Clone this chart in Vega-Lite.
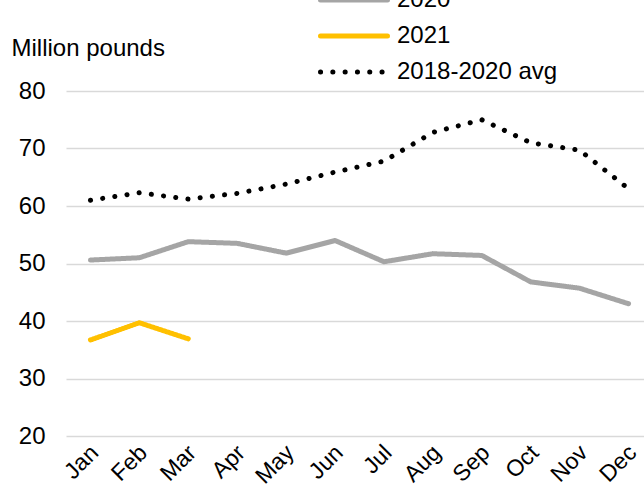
{
  "$schema": "https://vega.github.io/schema/vega-lite/v6.json",
  "autosize": "none",
  "width": 587,
  "height": 345,
  "padding": {"left": 66, "top": 91, "right": 0, "bottom": 56},
  "background": "white",
  "config": {
    "font": "Liberation Sans",
    "view": {"stroke": null},
    "axis": {"labelColor": "#000000", "titleColor": "#000000", "labelFont": "Liberation Sans", "titleFont": "Liberation Sans"}
  },
  "data": {
    "values": [
      {"month": "Jan", "series": "2020", "value": 50.6},
      {"month": "Feb", "series": "2020", "value": 51.0},
      {"month": "Mar", "series": "2020", "value": 53.8},
      {"month": "Apr", "series": "2020", "value": 53.5},
      {"month": "May", "series": "2020", "value": 51.8},
      {"month": "Jun", "series": "2020", "value": 54.0},
      {"month": "Jul", "series": "2020", "value": 50.3},
      {"month": "Aug", "series": "2020", "value": 51.7},
      {"month": "Sep", "series": "2020", "value": 51.4},
      {"month": "Oct", "series": "2020", "value": 46.8},
      {"month": "Nov", "series": "2020", "value": 45.7},
      {"month": "Dec", "series": "2020", "value": 43.0},
      {"month": "Jan", "series": "2021", "value": 36.7},
      {"month": "Feb", "series": "2021", "value": 39.7},
      {"month": "Mar", "series": "2021", "value": 36.9},
      {"month": "Jan", "series": "2018-2020 avg", "value": 61.0},
      {"month": "Feb", "series": "2018-2020 avg", "value": 62.3},
      {"month": "Mar", "series": "2018-2020 avg", "value": 61.2},
      {"month": "Apr", "series": "2018-2020 avg", "value": 62.2},
      {"month": "May", "series": "2018-2020 avg", "value": 63.8},
      {"month": "Jun", "series": "2018-2020 avg", "value": 65.9},
      {"month": "Jul", "series": "2018-2020 avg", "value": 67.8},
      {"month": "Aug", "series": "2018-2020 avg", "value": 72.8},
      {"month": "Sep", "series": "2018-2020 avg", "value": 75.0},
      {"month": "Oct", "series": "2018-2020 avg", "value": 71.0},
      {"month": "Nov", "series": "2018-2020 avg", "value": 69.7},
      {"month": "Dec", "series": "2018-2020 avg", "value": 63.0}
    ]
  },
  "mark": {"type": "line", "strokeWidth": 5, "strokeCap": "round", "strokeJoin": "round"},
  "encoding": {
    "x": {
      "field": "month",
      "type": "ordinal",
      "sort": ["Jan","Feb","Mar","Apr","May","Jun","Jul","Aug","Sep","Oct","Nov","Dec"],
      "scale": {"type": "point", "padding": 0.5},
      "axis": {
        "title": null,
        "labelAngle": -45,
        "labelFontSize": 23,
        "labelPadding": 5,
        "labelOffset": -4,
        "ticks": false,
        "tickSize": 0,
        "domain": false,
        "grid": false
      }
    },
    "y": {
      "field": "value",
      "type": "quantitative",
      "scale": {"domain": [20, 80], "nice": false, "zero": false},
      "axis": {
        "values": [20, 30, 40, 50, 60, 70, 80],
        "title": "Million pounds",
        "titleAngle": 0,
        "titleAlign": "left",
        "titleBaseline": "middle",
        "titleX": -55,
        "titleY": -43,
        "titleFontSize": 24,
        "titleFontWeight": "normal",
        "labelFontSize": 24,
        "labelPadding": 21,
        "ticks": false,
        "tickSize": 0,
        "domain": false,
        "grid": true,
        "gridColor": "#D9D9D9",
        "gridWidth": 1.5
      }
    },
    "color": {
      "field": "series",
      "type": "nominal",
      "scale": {"domain": ["2020", "2021", "2018-2020 avg"], "range": ["#A5A5A5", "#FFC000", "#000000"]},
      "legend": {
        "title": null,
        "orient": "none",
        "legendX": 252,
        "legendY": -103,
        "symbolType": "stroke",
        "symbolSize": 4489,
        "symbolStrokeWidth": 5,
        "clipHeight": 24,
        "labelFontSize": 24,
        "labelLimit": 400,
        "labelFont": "Liberation Sans",
        "labelColor": "#000000",
        "labelOffset": 7,
        "rowPadding": 12,
        "encode": {"symbols": {"update": {"strokeCap": {"value": "round"}}}}
      }
    },
    "strokeDash": {
      "field": "series",
      "type": "nominal",
      "scale": {"domain": ["2020", "2021", "2018-2020 avg"], "range": [[1, 0], [1, 0], [0.1, 12.2]]},
      "legend": {
        "title": null,
        "orient": "none",
        "legendX": 252,
        "legendY": -103,
        "symbolType": "stroke",
        "symbolSize": 4489,
        "symbolStrokeWidth": 5,
        "clipHeight": 24,
        "labelFontSize": 24,
        "labelLimit": 400,
        "labelFont": "Liberation Sans",
        "labelColor": "#000000",
        "labelOffset": 7,
        "rowPadding": 12,
        "encode": {"symbols": {"update": {"strokeCap": {"value": "round"}}}}
      }
    }
  }
}
